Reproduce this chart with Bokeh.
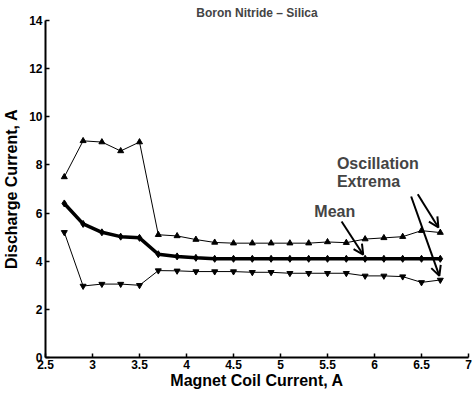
from bokeh.plotting import figure
from bokeh.models import Range1d, FixedTicker, Arrow, OpenHead, Label
from bokeh.embed import file_html
from bokeh.resources import INLINE

x = [2.7, 2.9, 3.1, 3.3, 3.5, 3.7, 3.9, 4.1, 4.3, 4.5, 4.7, 4.9, 5.1, 5.3, 5.5, 5.7, 5.9, 6.1, 6.3, 6.5, 6.7]
upper = [7.5, 9.0, 8.95, 8.58, 8.95, 5.1, 5.05, 4.9, 4.78, 4.75, 4.75, 4.75, 4.75, 4.75, 4.8, 4.77, 4.92, 4.97, 5.02, 5.27, 5.19]
mean = [6.4, 5.55, 5.2, 5.02, 4.97, 4.29, 4.2, 4.14, 4.1, 4.1, 4.1, 4.1, 4.1, 4.1, 4.1, 4.1, 4.1, 4.1, 4.1, 4.1, 4.1]
lower = [5.2, 2.97, 3.05, 3.05, 3.0, 3.61, 3.6, 3.57, 3.57, 3.57, 3.54, 3.54, 3.5, 3.5, 3.5, 3.5, 3.39, 3.39, 3.36, 3.12, 3.22]

x_ticks = [2.5, 3, 3.5, 4, 4.5, 5, 5.5, 6, 6.5, 7]
x_tick_labels = ["2.5", "3", "3.5", "4", "4.5", "5", "5.5", "6", "6.5", "7"]
y_ticks = [0, 2, 4, 6, 8, 10, 12, 14]
title_text = "Boron Nitride \u2013 Silica"

FONT = "Liberation Sans"

p = figure(width=473, height=402, output_backend="svg", toolbar_location=None,
           x_range=Range1d(2.5, 7), y_range=Range1d(0, 14), title=title_text)
p.min_border_left = 43
p.min_border_right = 5
p.min_border_top = 20
p.min_border_bottom = 45
p.outline_line_color = None
p.grid.visible = False
p.background_fill_color = "white"
p.border_fill_color = "white"

p.title.align = "center"
p.title.text_font = FONT
p.title.text_font_size = "12px"
p.title.text_font_style = "bold"
p.title.offset = 0
p.title.standoff = 1

p.xaxis.ticker = FixedTicker(ticks=x_ticks)
p.xaxis.major_label_overrides = {t: l for t, l in zip(x_ticks, x_tick_labels)}
p.yaxis.ticker = FixedTicker(ticks=y_ticks)
p.xaxis.axis_label = "Magnet Coil Current, A"
p.yaxis.axis_label = "Discharge Current, A"
for ax in (p.xaxis, p.yaxis):
    ax.axis_line_width = 2
    ax.axis_line_color = "black"
    ax.major_tick_in = 4
    ax.major_tick_out = 0
    ax.major_tick_line_width = 1.5
    ax.minor_tick_line_color = None
    ax.major_label_text_font = FONT
    ax.major_label_text_font_style = "bold"
    ax.major_label_text_font_size = "12px"
    ax.major_label_text_color = "black"
    ax.axis_label_text_font = FONT
    ax.axis_label_text_font_style = "bold"
    ax.axis_label_text_font_size = "16px"
    ax.axis_label_text_color = "black"
p.xaxis.major_label_standoff = 2
p.xaxis.axis_label_standoff = 0
p.yaxis.major_label_standoff = 3
p.yaxis.axis_label_standoff = 6

p.line(x, upper, line_color="black", line_width=1)
p.scatter(x, upper, marker="triangle", size=6, color="black")
p.line(x, lower, line_color="black", line_width=1)
p.scatter(x, lower, marker="inverted_triangle", size=6, color="black")
p.line(x, mean, line_color="black", line_width=3.5)
p.scatter(x, mean, marker="diamond", size=7, color="black")

p.add_layout(Label(x=5.36, y=6.07, text="Mean", text_font=FONT, text_font_style="bold",
                   text_font_size="16px", text_baseline="middle"))
p.add_layout(Label(x=5.6, y=8.07, text="Oscillation", text_font=FONT, text_font_style="bold",
                   text_font_size="16px", text_baseline="middle"))
p.add_layout(Label(x=5.6, y=7.3, text="Extrema", text_font=FONT, text_font_style="bold",
                   text_font_size="16px", text_baseline="middle"))

arrows = [((5.65, 5.65), (5.88, 4.27)), ((6.46, 6.78), (6.68, 5.4)), ((6.39, 6.69), (6.69, 3.39))]
for (x0, y0), (x1, y1) in arrows:
    p.add_layout(Arrow(end=OpenHead(size=10, line_width=2), x_start=x0, y_start=y0,
                       x_end=x1, y_end=y1, line_width=2))

open("out.html", "w").write(file_html(p, INLINE))
